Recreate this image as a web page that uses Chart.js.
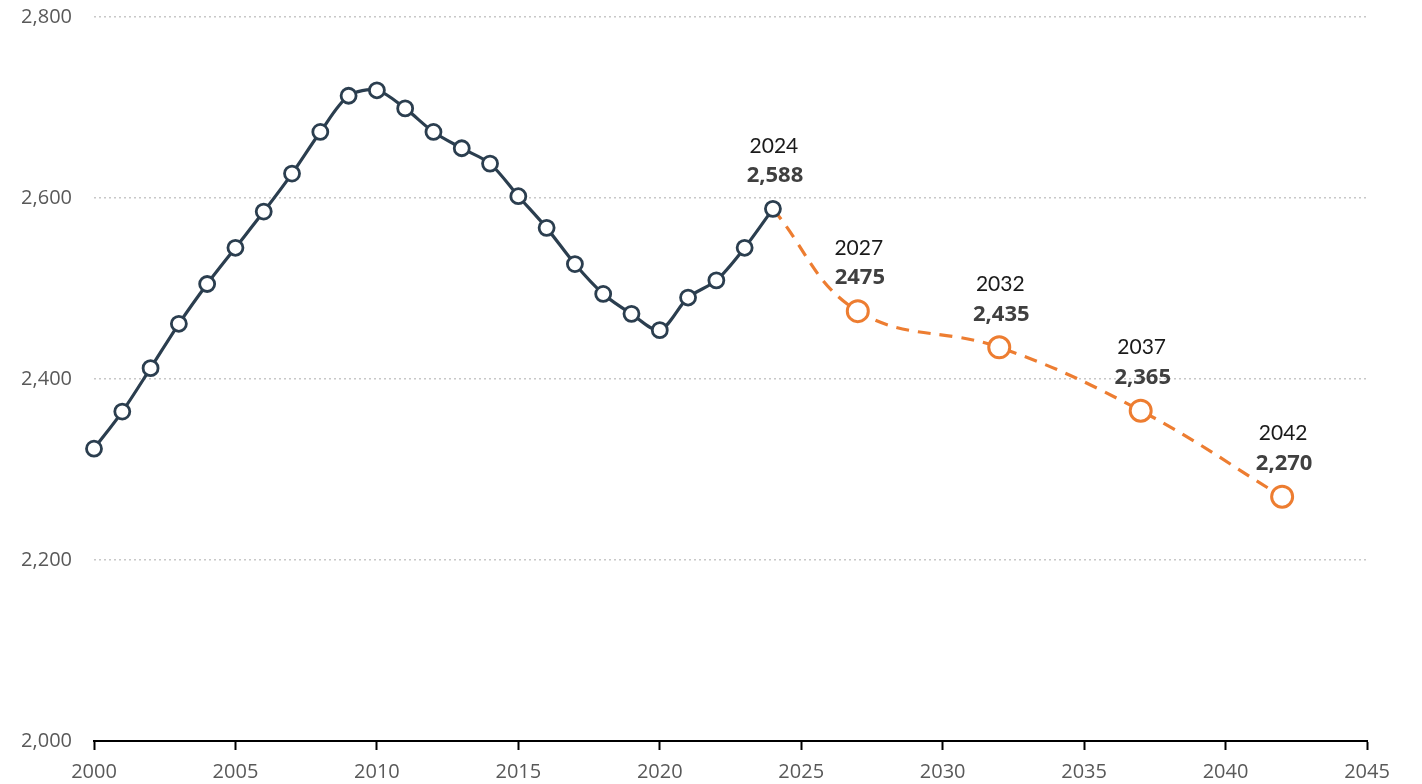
<!DOCTYPE html>
<html>
<head>
<meta charset="utf-8">
<script src="https://cdn.jsdelivr.net/npm/chart.js@4"></script>
<style>
  html, body { margin: 0; padding: 0; background: #fff; }
  #wrap { width: 1422px; height: 784px; }
</style>
</head>
<body>
<div id="wrap"><canvas id="chart" width="1422" height="784"></canvas></div>
<script>
// historical series
const histYears = [2000, 2001, 2002, 2003, 2004, 2005, 2006, 2007, 2008, 2009, 2010, 2011, 2012,
  2013, 2014, 2015, 2016, 2017, 2018, 2019, 2020, 2021, 2022, 2023, 2024]
const histValues = [2323, 2364, 2412, 2461, 2505, 2545, 2585, 2627, 2673, 2713, 2719, 2699, 2673,
  2655, 2638, 2602, 2567, 2527, 2494, 2472, 2454, 2490, 2509, 2545, 2588]

// projection series (starts from last actual point)
const projYears = [2024, 2027, 2032, 2037, 2042]
const projValues = [2588, 2475, 2435, 2365, 2270]

// callout labels
const calloutYears = [2024, 2027, 2032, 2037, 2042]
const calloutValues = [2588, 2475, 2435, 2365, 2270]
const calloutText = ['2,588', '2475', '2,435', '2,365', '2,270']

const darkBlue = '#2b3e4f'
const orange = '#ed7d31'

const histData = histYears.map((x, i) => ({ x: x, y: histValues[i] }))
const projData = projYears.map((x, i) => ({ x: x, y: projValues[i] }))

const calloutPlugin = {
  id: 'callouts',
  afterDatasetsDraw(chart) {
    const ctx = chart.ctx
    const xs = chart.scales.x
    const ys = chart.scales.y
    ctx.save()
    ctx.textAlign = 'center'
    ctx.textBaseline = 'middle'
    calloutYears.forEach((yr, i) => {
      const px = xs.getPixelForValue(yr)
      const py = ys.getPixelForValue(calloutValues[i])
      ctx.fillStyle = '#1a1a1a'
      ctx.font = '21px Lato'
      ctx.fillText(String(yr), px + 1, py - 63)
      ctx.fillStyle = '#404040'
      ctx.font = 'bold 22px "Open Sans"'
      ctx.fillText(calloutText[i], px + 2, py - 33)
    })
    ctx.restore()
  }
}

const ctx = document.getElementById('chart').getContext('2d')
new Chart(ctx, {
  type: 'line',
  data: {
    datasets: [
      {
        label: 'Actual',
        data: histData,
        borderColor: darkBlue,
        borderWidth: 3.2,
        tension: 0.3,
        pointRadius: 7.5,
        pointBorderWidth: 2.8,
        pointBackgroundColor: '#fff',
        pointBorderColor: darkBlue,
        clip: false,
        order: 1
      },
      {
        label: 'Projection',
        data: projData,
        borderColor: orange,
        borderWidth: 3.2,
        borderDash: [13, 9],
        tension: 0.4,
        pointRadius: [0, 10.5, 10.5, 10.5, 10.5],
        pointBorderWidth: 3,
        pointBackgroundColor: '#fff',
        pointBorderColor: orange,
        clip: false,
        order: 2
      }
    ]
  },
  options: {
    responsive: false,
    animation: false,
    layout: { padding: { top: 17, right: 55, left: 0, bottom: 0 } },
    plugins: {
      legend: { display: false },
      tooltip: { enabled: false }
    },
    scales: {
      x: {
        type: 'linear',
        min: 2000,
        max: 2045,
        ticks: {
          stepSize: 5,
          color: '#595959',
          font: { family: 'Open Sans', size: 20 },
          padding: 10,
          callback: v => String(v)
        },
        grid: {
          drawOnChartArea: false,
          drawTicks: true,
          tickLength: 9,
          tickWidth: 2,
          tickColor: '#000'
        },
        border: { display: true, color: '#000', width: 2 },
        afterFit(scale) { scale.height = 43 }
      },
      y: {
        min: 2000,
        max: 2800,
        ticks: {
          stepSize: 200,
          color: '#595959',
          font: { family: 'Open Sans', size: 20 },
          padding: 22,
          callback: v => v.toLocaleString('en-US')
        },
        grid: {
          color: '#c8c8c8',
          lineWidth: 1.5,
          drawTicks: false
        },
        border: { display: false, dash: [2, 3] },
        afterFit(scale) {
          scale.width = 94
          scale.paddingTop = 0
          scale.paddingBottom = 0
        }
      }
    }
  },
  plugins: [calloutPlugin]
})
</script>
</body>
</html>
